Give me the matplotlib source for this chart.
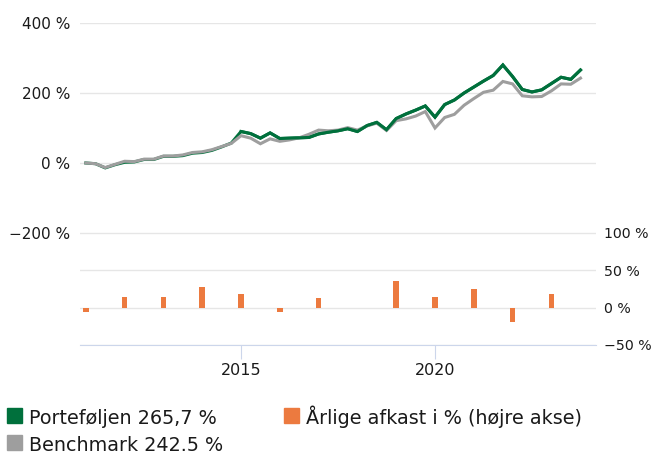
import matplotlib
matplotlib.use("Agg")
import matplotlib.pyplot as plt
from matplotlib.patches import Rectangle
import numpy as np

# quarterly cumulative return (%), starting Q1 2011
start_year = 2011.0
portfolio = [0, -2, -14, -5, 2, 3, 10, 10, 19, 19, 21, 28, 30, 36, 46, 57,
             90, 84, 71, 86, 70, 71, 72, 73, 83, 88, 92, 98, 90, 107, 116, 95,
             127, 140, 151, 163, 131, 167, 180, 200, 217, 234, 250, 280, 247, 210,
             203, 209, 227, 245, 239, 265.7]
benchmark = [0, -2, -13, -4, 5, 4, 11, 11, 20, 20, 23, 30, 32, 38, 47, 56,
             78, 71, 55, 69, 62, 66, 72, 82, 94, 92, 94, 101, 94, 106, 114, 93,
             121, 126, 134, 147, 100, 130, 139, 165, 184, 202, 208, 233, 226, 192,
             189, 190, 206, 226, 225, 242.5]

years = [2011, 2012, 2013, 2014, 2015, 2016, 2017, 2018, 2019, 2020, 2021, 2022, 2023]
annual = [-6, 14, 14, 27.5, 18, -6, 12.5, 0, 35.5, 14, 25, -19, 18]

legend_labels = ["Porteføljen 265,7 %", "Benchmark 242.5 %", "Årlige afkast i % (højre akse)"]

GREEN, GRAY, ORANGE = "#00703c", "#9e9e9e", "#ec7a3f"
GRID, AXIS, TXT = "#e6e6e6", "#ccd6eb", "#1a1a1a"

W, H = 654, 454
x_q = start_year + 0.25 * np.arange(len(portfolio))

fig = plt.figure(figsize=(W / 100, H / 100), dpi=100)
L, R = 80 / W, 596 / W
ax1 = fig.add_axes([L, 221 / H, R - L, 210 / H])
ax2 = fig.add_axes([L, 109 / H, R - L, 112 / H], sharex=ax1)

# benchmark sits on top where the lines overlap, portfolio on top after 2015
ax1.plot(x_q, portfolio, color=GREEN, lw=2.2, solid_joinstyle="miter")
ax1.plot(x_q, benchmark, color=GRAY, lw=2.2, solid_joinstyle="miter")
ax1.plot(x_q[16:], portfolio[16:], color=GREEN, lw=2.2, solid_joinstyle="miter")
ax1.set_ylim(-200, 400)
ax1.set_yticks([-200, 0, 200, 400])
ax1.set_yticklabels(["\u2212200 %", "0 %", "200 %", "400 %"])
ax1.grid(axis="y", color=GRID, lw=1)
ax1.set_axisbelow(True)
ax1.tick_params(axis="y", length=0, labelsize=11, pad=7, colors=TXT)
ax1.tick_params(axis="x", bottom=False, labelbottom=False)
for s in ax1.spines.values():
    s.set_visible(False)

ax2.bar(years, annual, width=0.14, color=ORANGE)
ax2.set_ylim(-50, 100)
ax2.set_yticks([-50, 0, 50, 100])
ax2.set_yticklabels(["\u221250 %", "0 %", "50 %", "100 %"])
ax2.yaxis.tick_right()
ax2.grid(axis="y", color=GRID, lw=1)
ax2.tick_params(axis="y", length=0, labelsize=10.2, pad=6, colors=TXT)
ax2.set_xlim(2010.85, 2024.15)
ax2.set_xticks([2015, 2020])
ax2.tick_params(axis="x", length=10, color=AXIS, labelsize=11.5, pad=3, colors=TXT)
for s in ax2.spines.values():
    s.set_visible(False)
ax2.spines["bottom"].set_visible(True)
ax2.spines["bottom"].set_color(AXIS)
ax2.set_axisbelow(True)

# legend: coloured squares + labels (pixel layout from the reference)
items = [(7, 408, GREEN, legend_labels[0]),
         (7, 435, GRAY, legend_labels[1]),
         (284, 408, ORANGE, legend_labels[2])]
for x0, y0, c, lab in items:
    fig.patches.append(Rectangle((x0 / W, 1 - (y0 + 15) / H), 15 / W, 15 / H,
                                 transform=fig.transFigure, color=c))
    fig.text((x0 + 22) / W, 1 - (y0 + 16) / H, lab, fontsize=13.8, color=TXT,
             va="baseline", ha="left")

fig.savefig("out.png", dpi=100)
